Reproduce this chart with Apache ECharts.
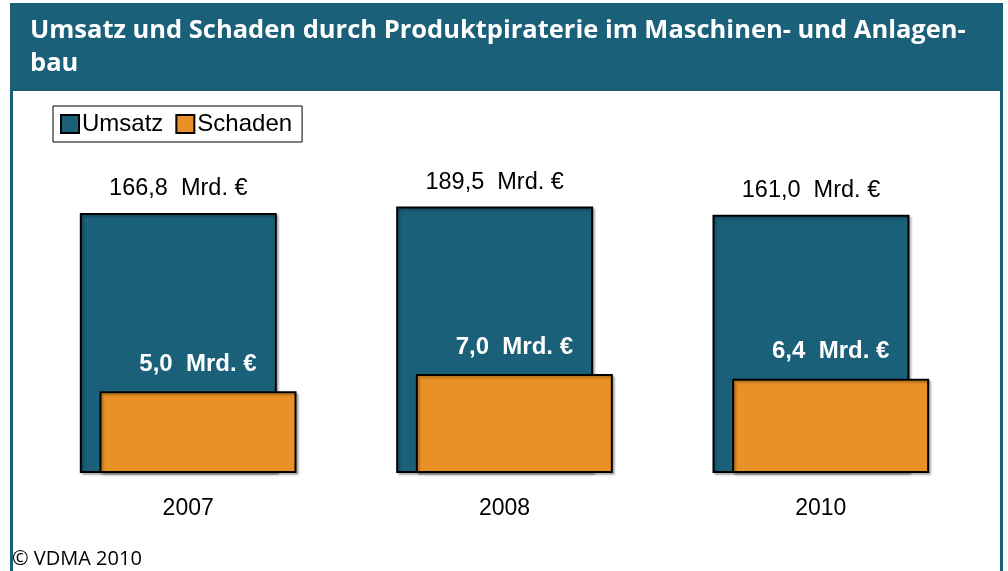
<!DOCTYPE html>
<html>
<head>
<meta charset="utf-8">
<script src="https://cdn.jsdelivr.net/npm/echarts@6/dist/echarts.min.js"></script>
<style>
html,body{margin:0;padding:0;background:#fff;}
#main{width:1008px;height:571px;}
</style>
</head>
<body>
<div id="main"></div>
<script>
var years   = ['2007', '2008', '2010'];
var umsatz  = [166.8, 189.5, 161.0];
var schaden = [5.0, 7.0, 6.4];

var teal   = '#1b6079';
var orange = '#e99126';

// Werte mit Komma als Dezimaltrennzeichen
function mrd(p){
	return p.value.toFixed(1).replace('.', ',') + '  Mrd. €';
}

var chart = echarts.init(document.getElementById('main'));
var option = {
	animation: false,
	title: {
		text: 'Umsatz und Schaden durch Produktpiraterie im Maschinen- und Anlagen-\nbau',
		left: 25,
		top: 9,
		textStyle: {
			color: '#fff',
			fontFamily: 'Open Sans',
			fontWeight: 'bold',
			fontSize: 25.5,
			lineHeight: 33
		}
	},
	legend: {
		left: 53,
		top: 106,
		padding: [6, 10, 6, 7],
		borderColor: '#000',
		borderWidth: 1,
		itemWidth: 18,
		itemHeight: 18,
		itemGap: 12,
		icon: 'rect',
		textStyle: { fontFamily: 'Liberation Sans', fontSize: 24, color: '#000', padding: [0, 0, 0, -2] },
		data: ['Umsatz', 'Schaden']
	},
	grid: { left: 30, right: 29, top: 122, bottom: 98 },
	xAxis: {
		type: 'category',
		data: years,
		axisLine: { show: false },
		axisTick: { show: false },
		axisLabel: { margin: 24, fontFamily: 'Liberation Sans', fontSize: 23, color: '#000' }
	},
	yAxis: {
		type: 'log',
		logBase: 10,
		min: 1,
		max: 1000,
		axisLine: { show: false },
		axisTick: { show: false },
		axisLabel: { show: false },
		splitLine: { show: false }
	},
	series: [
		{
			name: 'Umsatz',
			type: 'bar',
			data: umsatz,
			barWidth: 197,
			barGap: '-90%',
			itemStyle: {
				color: teal, borderColor: '#000', borderWidth: 2,
				shadowColor: 'rgba(0,0,0,0.25)', shadowOffsetX: 2, shadowOffsetY: 2, shadowBlur: 2
			},
			label: {
				show: true, position: 'top', distance: 12,
				formatter: mrd,
				fontFamily: 'Liberation Sans', fontSize: 23.5, color: '#000'
			}
		},
		{
			name: 'Schaden',
			type: 'bar',
			data: schaden,
			barWidth: 197,
			itemStyle: {
				color: orange, borderColor: '#000', borderWidth: 2,
				shadowColor: 'rgba(0,0,0,0.25)', shadowOffsetX: 2, shadowOffsetY: 2, shadowBlur: 2
			},
			label: {
				show: true, position: 'top', distance: 15,
				formatter: mrd,
				fontFamily: 'Liberation Sans', fontWeight: 'bold', fontSize: 24, color: '#fff'
			}
		}
	],
	graphic: [
		{ type: 'rect', z: -1, shape: { x: 10, y: 3, width: 993, height: 88 }, style: { fill: teal } },
		{ type: 'rect', shape: { x: 10, y: 91, width: 3, height: 480 }, style: { fill: teal } },
		{ type: 'rect', shape: { x: 1000, y: 91, width: 3, height: 480 }, style: { fill: teal } },
		{
			type: 'text', left: 12, top: 549,
			style: { text: '© VDMA 2010', font: '20px "Open Sans"', fill: '#000' }
		}
	]
};
chart.setOption(option);
</script>
</body>
</html>
